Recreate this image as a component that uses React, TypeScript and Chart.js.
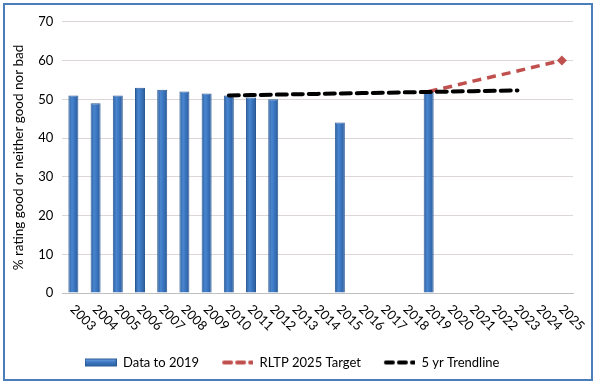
import React, { useEffect, useRef } from "react";
import { Chart, registerables } from "chart.js";

Chart.register(...registerables);

const years: string[] = [
  "2003", "2004", "2005", "2006", "2007", "2008", "2009", "2010", "2011", "2012", "2013", "2014",
  "2015", "2016", "2017", "2018", "2019", "2020", "2021", "2022", "2023", "2024", "2025",
];

const dataTo2019: (number | null)[] = [
  51, 49, 51, 53, 52.5, 52, 51.5, 51, 50.5, 50, null, null,
  44, null, null, null, 52, null, null, null, null, null, null,
];

const rltpTarget: (number | null)[] = [
  null, null, null, null, null, null, null, null, null, null, null, null,
  null, null, null, null, 52, 53.3, 54.7, 56, 57.3, 58.7, 60,
];

const trendline: (number | null)[] = [
  null, null, null, null, null, null, null, 51.0, 51.1, 51.2, 51.3, 51.4,
  51.5, 51.6, 51.7, 51.8, 51.9, 52.0, 52.1, 52.2, 52.3, null, null,
];

const yTicks: number[] = [0, 10, 20, 30, 40, 50, 60, 70];

const seriesNames: string[] = ["Data to 2019", "RLTP 2025 Target", "5 yr Trendline"];

const FONT = "Lato, 'Open Sans', 'DejaVu Sans', sans-serif";

function makeSwatch(kind: number): HTMLCanvasElement {
  const c = document.createElement("canvas");
  c.width = 32;
  c.height = 12;
  const g = c.getContext("2d")!;
  if (kind === 0) {
    const grad = g.createLinearGradient(0, 2, 0, 10);
    grad.addColorStop(0, "#7fb0e6");
    grad.addColorStop(0.4, "#3f7cc6");
    grad.addColorStop(1, "#2a5d9f");
    g.fillStyle = grad;
    g.fillRect(0, 2, 32, 8);
    g.strokeStyle = "#2b5a94";
    g.lineWidth = 1;
    g.strokeRect(0.5, 2.5, 31, 7);
  } else {
    g.strokeStyle = kind === 1 ? "#c0504d" : "#000000";
    g.lineWidth = 4;
    g.lineCap = "round";
    g.setLineDash([7, 6]);
    g.beginPath();
    g.moveTo(3, 6);
    g.lineTo(31, 6);
    g.stroke();
  }
  return c;
}

const rotatedLabels = {
  id: "rotatedLabels",
  afterDraw(chart: any) {
    const s = chart.scales.x;
    const ctx = chart.ctx;
    ctx.save();
    ctx.font = "13px " + FONT;
    ctx.fillStyle = "#000";
    ctx.textAlign = "left";
    ctx.textBaseline = "middle";
    years.forEach((lab, i) => {
      const x = s.getPixelForTick(i);
      ctx.save();
      ctx.translate(x - 1, s.top + 14);
      ctx.rotate(Math.PI / 4);
      ctx.fillText(lab, 0, 0);
      ctx.restore();
    });
    ctx.restore();
  },
};

function barFill(c: any) {
  const chart = c.chart;
  const xs = chart.scales && chart.scales.x;
  if (!xs || c.dataIndex === undefined) return "#3570b8";
  const cx = xs.getPixelForValue(c.dataIndex);
  if (!isFinite(cx)) return "#3570b8";
  const g = chart.ctx.createLinearGradient(cx - 5, 0, cx + 5, 0);
  g.addColorStop(0, "#2a5c9c");
  g.addColorStop(0.35, "#4a86cf");
  g.addColorStop(0.6, "#3b76c0");
  g.addColorStop(1, "#2a5a98");
  return g;
}

export default function App() {
  const ref = useRef<HTMLCanvasElement | null>(null);

  useEffect(() => {
    document.body.style.margin = "0";
    const swatches = [makeSwatch(0), makeSwatch(1), makeSwatch(2)];
    const chart = new Chart(ref.current!, {
      type: "bar",
      data: {
        labels: years,
        datasets: [
          {
            type: "bar",
            label: seriesNames[0],
            data: dataTo2019,
            backgroundColor: barFill,
            borderColor: "#2a5a96",
            borderWidth: 1,
            barPercentage: 0.45,
            categoryPercentage: 1,
            order: 2,
          } as any,
          {
            type: "line",
            label: seriesNames[1],
            data: rltpTarget,
            borderColor: "#c0504d",
            backgroundColor: "#c0504d",
            borderWidth: 3.5,
            borderDash: [9, 6],
            pointRadius: rltpTarget.map((v, i) => (i === rltpTarget.length - 1 ? 5 : 0)),
            pointStyle: "rectRot",
            pointBackgroundColor: "#c0504d",
            pointBorderWidth: 0,
            tension: 0,
            spanGaps: false,
            order: 1,
          } as any,
          {
            type: "line",
            label: seriesNames[2],
            data: trendline,
            borderColor: "#000000",
            backgroundColor: "#000000",
            borderWidth: 4,
            borderDash: [10, 6],
            borderCapStyle: "round",
            pointRadius: 0,
            tension: 0,
            spanGaps: false,
            order: 0,
          } as any,
        ],
      },
      options: {
        animation: false,
        responsive: false,
        maintainAspectRatio: false,
        layout: { padding: { top: 8, right: 18, left: 6, bottom: 0 } },
        plugins: {
          tooltip: { enabled: false },
          legend: {
            position: "bottom",
            labels: {
              usePointStyle: true,
              pointStyleWidth: 32,
              padding: 22,
              color: "#000",
              font: { family: FONT, size: 13 },
              generateLabels: () =>
                seriesNames.map((n, i) => ({
                  text: n,
                  pointStyle: swatches[i] as any,
                  datasetIndex: i,
                  hidden: false,
                  lineWidth: 0,
                  strokeStyle: "transparent",
                  fillStyle: "transparent",
                  fontColor: "#000",
                })),
            },
          },
        },
        scales: {
          x: {
            offset: true,
            grid: { display: false },
            border: { color: "#bfbfbf", width: 1 },
            ticks: {
              color: "rgba(0,0,0,0)",
              maxRotation: 45,
              minRotation: 45,
              autoSkip: false,
              font: { family: FONT, size: 10 },
              padding: 4,
            },
          },
          y: {
            min: 0,
            max: 70,
            afterBuildTicks: (axis: any) => {
              axis.ticks = yTicks.map((v) => ({ value: v }));
            },
            grid: {
              color: (c: any) => (c.tick && c.tick.value === 0 ? "#bfbfbf" : "#dcd6d6"),
              drawTicks: false,
            },
            border: { display: false },
            ticks: {
              color: "#000",
              padding: 9,
              font: { family: FONT, size: 13 },
            },
            title: {
              display: true,
              text: "% rating good or neither good nor bad",
              color: "#000",
              font: { family: FONT, size: 13.5 },
              padding: { top: 0, bottom: 2 },
            },
          },
        },
      },
      plugins: [rotatedLabels],
    });
    return () => chart.destroy();
  }, []);

  return (
    <div style={{ position: "absolute", left: 0, top: 0, width: 600, height: 385, background: "#fff", overflow: "hidden" }}>
      <div
        style={{
          position: "absolute",
          left: 3,
          top: 3,
          width: 590,
          height: 378,
          boxSizing: "border-box",
          border: "2px solid #4a7ebb",
          background: "#fff",
        }}
      >
        <canvas ref={ref} width={586} height={374} style={{ display: "block" }} />
      </div>
    </div>
  );
}
